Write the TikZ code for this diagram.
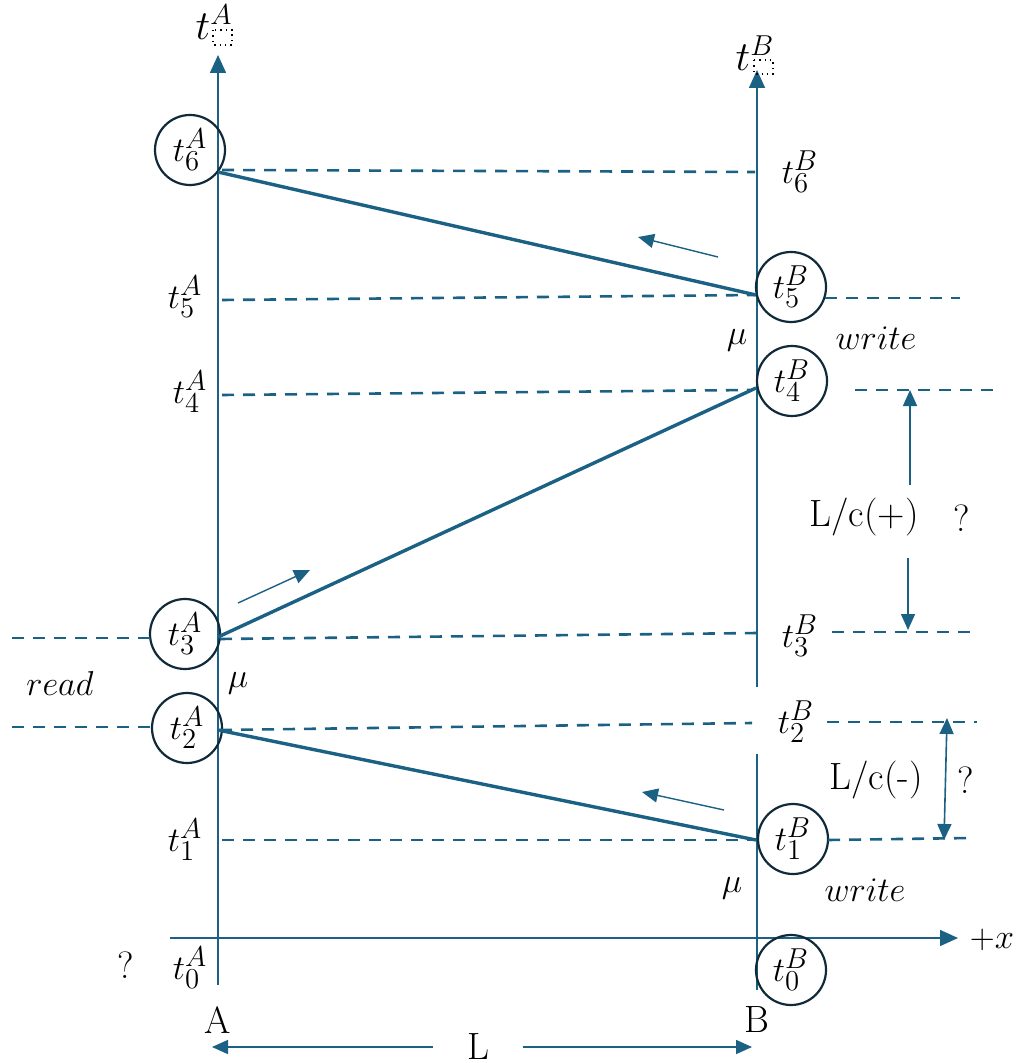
\documentclass[tikz,border=0pt]{standalone}
\usetikzlibrary{arrows.meta}
\definecolor{lb}{RGB}{27,97,132}
\definecolor{cb}{RGB}{16,42,58}
\begin{document}
\begin{tikzpicture}[x=0.5pt,y=-0.5pt,
  every node/.style={font=\fontsize{19}{22}\selectfont, inner sep=0pt},
  axlabel/.style={font=\fontsize{22}{25}\selectfont},
  axis/.style={lb, line width=0.8pt},
  axarrow/.style={axis, -{Triangle[width=8pt,length=9pt]}},
  dline/.style={lb, line width=1.3pt, dash pattern=on 6pt off 4.5pt},
  sig/.style={lb, line width=1.7pt},
  dirarrow/.style={lb, line width=0.7pt, -{Triangle[width=7pt,length=8pt]}},
  dimarrow/.style={lb, line width=0.8pt, -{Triangle[width=7pt,length=8pt]}},
  circ/.style={circle, draw=cb, line width=1.1pt, minimum size=35pt},
  boxph/.style={black, line width=0.7pt, dotted}
]
\useasboundingbox (0,0) rectangle (1024,1063);

% axes
\coordinate (Abot) at (218,985);
\coordinate (Atop) at (218,55);
\coordinate (Bbot) at (757,990);
\coordinate (Bgap1) at (757,754);
\coordinate (Bgap2) at (757,687);
\coordinate (Btop) at (757,70);
\coordinate (Xl) at (170,938);
\coordinate (Xr) at (958,938);
\draw[axarrow] (Abot) -- (Atop);
\draw[axis] (Bbot) -- (Bgap1);
\draw[axarrow] (Bgap2) -- (Btop);
\draw[axarrow] (Xl) -- (Xr);

% axis labels
\node[axlabel] (tAax) at (214,22) {$t^{A}$};
\draw[boxph] (213,30) rectangle (232,45);
\node[axlabel] (tBax) at (755,53) {$t^{B}$};
\draw[boxph] (754,60) rectangle (773,74);
\node (plx) at (992,940) {$+x$};

% circles
\node[circ] (c6A) at (190,150) {$t^{A}_{6}$};
\node[circ] (c5B) at (791,287) {$t^{B}_{5}$};
\node[circ] (c4B) at (792,381) {$t^{B}_{4}$};
\node[circ] (c3A) at (185,634) {$t^{A}_{3}$};
\node[circ] (c2A) at (187,728) {$t^{A}_{2}$};
\node[circ] (c1B) at (793,839) {$t^{B}_{1}$};
\node[circ] (c0B) at (791,970) {$t^{B}_{0}$};

% plain time labels
\node (l6B) at (800,172) {$t^{B}_{6}$};
\node (l5A) at (185,297) {$t^{A}_{5}$};
\node (l4A) at (190,392) {$t^{A}_{4}$};
\node (l3B) at (800,636) {$t^{B}_{3}$};
\node (l2B) at (796,722) {$t^{B}_{2}$};
\node (l1A) at (185,840) {$t^{A}_{1}$};
\node (l0A) at (190,968) {$t^{A}_{0}$};

% mu, read, write
\node (mu1) at (737,340) {$\mu$};
\node (mu2) at (238,683) {$\mu$};
\node (mu3) at (732,888) {$\mu$};
\node (w1) at (876,338) {$write$};
\node (w2) at (865,890) {$write$};
\node (rd) at (60,683) {$read$};

% dimension labels
\node (lcp) at (864,517) {L/c(+)};
\node (q1) at (962,518) {?};
\node (lcm) at (876,780) {L/c(-)};
\node (q2) at (966,780) {?};
\node (q3) at (126,965) {?};
\node (lA) at (218,1020) {A};
\node (lB) at (757,1020) {B};
\node[inner xsep=17pt] (lL) at (478,1047) {L};

% dashed time lines
\draw[dline] (222,170) -- (755,172);
\draw[dline] (222,300) -- (755,295);
\draw[dline] (825,298) -- (960,298);
\draw[dline] (222,395) -- (750,390);
\draw[dline] (855,390) -- (995,390);
\draw[dline] (12,638) -- (150,638);
\draw[dline] (220,639) -- (757,633);
\draw[dline] (832,632) -- (975,632);
\draw[dline] (12,727) -- (150,727);
\draw[dline] (220,730) -- (752,723);
\draw[dline] (827,722) -- (977,722);
\draw[dline] (222,840) -- (755,840);
\draw[dline] (828,840) -- (970,838);

% signals
\coordinate (s6A) at (218,172);
\coordinate (s5B) at (756,295);
\coordinate (s3A) at (218,637);
\coordinate (s4B) at (756,388);
\coordinate (s2A) at (218,730);
\coordinate (s1B) at (756,840);
\draw[sig] (s6A) -- (s5B);
\draw[sig] (s3A) -- (s4B);
\draw[sig] (s2A) -- (s1B);

% direction arrows
\coordinate (d1a) at (718,257); \coordinate (d1b) at (638,237);
\coordinate (d2a) at (238,603); \coordinate (d2b) at (310,570);
\coordinate (d3a) at (724,810); \coordinate (d3b) at (642,792);
\draw[dirarrow] (d1a) -- (d1b);
\draw[dirarrow] (d2a) -- (d2b);
\draw[dirarrow] (d3a) -- (d3b);

% L/c arrows
\coordinate (p1a) at (910,485); \coordinate (p1b) at (910,390);
\coordinate (p2a) at (908,558); \coordinate (p2b) at (908,630);
\draw[dimarrow] (p1a) -- (p1b);
\draw[dimarrow] (p2a) -- (p2b);
\coordinate (m1) at (947,718); \coordinate (m2) at (944,840);
\draw[dimarrow, {Triangle[width=7pt,length=8pt]}-{Triangle[width=7pt,length=8pt]}] (m1) -- (m2);

% L arrow
\coordinate (Lleft) at (212,1047);
\coordinate (Lright) at (752,1047);
\draw[dimarrow] (lL) -- (Lleft);
\draw[dimarrow] (lL) -- (Lright);
\end{tikzpicture}
\end{document}
